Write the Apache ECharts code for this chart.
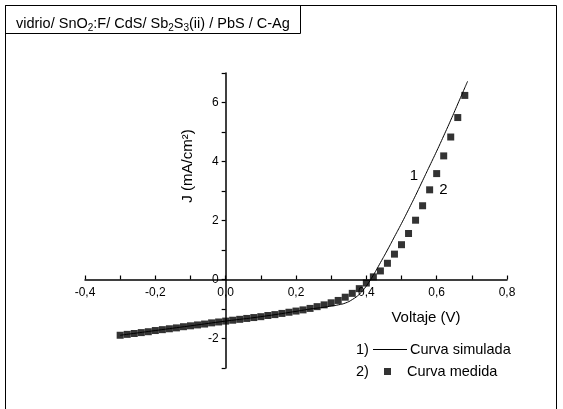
<!DOCTYPE html>
<html lang="es" style="height: 100%">
<head>
  <meta charset="utf-8">
</head>
<body style="height: 100%; margin: 0; background: #fff">
  <div id="container" style="width: 563px; height: 409px"></div>
  <script type="text/javascript" src="https://cdn.jsdelivr.net/npm/echarts@6/dist/echarts.min.js"></script>
  <script type="text/javascript">

    // curva medida (cuadrados), paso 0,02 V
    var voltMedido = [-0.30, -0.28, -0.26, -0.24, -0.22, -0.20, -0.18, -0.16, -0.14, -0.12,
      -0.10, -0.08, -0.06, -0.04, -0.02, 0.00, 0.02, 0.04, 0.06, 0.08,
      0.10, 0.12, 0.14, 0.16, 0.18, 0.20, 0.22, 0.24, 0.26, 0.28,
      0.30, 0.32, 0.34, 0.36, 0.38, 0.40, 0.42, 0.44, 0.46, 0.48,
      0.50, 0.52, 0.54, 0.56, 0.58, 0.60, 0.62, 0.64, 0.66, 0.68];
    var jMedido = [-1.89, -1.86, -1.83, -1.80, -1.77, -1.73, -1.70, -1.67, -1.64, -1.60,
      -1.57, -1.54, -1.51, -1.47, -1.44, -1.41, -1.38, -1.35, -1.32, -1.29,
      -1.26, -1.22, -1.19, -1.15, -1.11, -1.07, -1.03, -0.98, -0.92, -0.86,
      -0.79, -0.71, -0.60, -0.47, -0.31, -0.12, 0.09, 0.29, 0.55, 0.86,
      1.18, 1.56, 2.01, 2.50, 3.04, 3.59, 4.19, 4.83, 5.49, 6.24];

    // curva simulada (linea)
    var voltSimulado = [-0.30, -0.20, -0.10, 0.00, 0.10, 0.20, 0.24, 0.26, 0.28,
      0.30, 0.32, 0.34, 0.36, 0.38, 0.40, 0.42, 0.44, 0.46, 0.48,
      0.50, 0.52, 0.54, 0.56, 0.58, 0.60, 0.62, 0.64, 0.66, 0.68, 0.688];
    var jSimulado = [-1.89, -1.73, -1.57, -1.41, -1.26, -1.08, -1.00, -0.97, -0.94,
      -0.90, -0.86, -0.80, -0.68, -0.50, -0.22, 0.15, 0.57, 1.00, 1.45,
      1.90, 2.37, 2.85, 3.35, 3.85, 4.35, 4.87, 5.40, 5.95, 6.50, 6.72];

    var etiquetas = [
      { texto: '1', coord: [0.535, 3.52] },
      { texto: '2', coord: [0.619, 3.03] }
    ];

    var fuente = 'Liberation Sans, Arial, sans-serif';

    var xMin = -0.4, xMax = 0.8, yMin = -3, yMax = 7;
    var grid = { left: 85, right: 56, top: 73, bottom: 41 };
    var anchoGrid = 563 - grid.left - grid.right;
    var altoGrid = 409 - grid.top - grid.bottom;

    var dom = document.getElementById('container');
    var myChart = echarts.init(dom, null, { renderer: 'canvas' });

    var medido = voltMedido.map(function (v, i) { return [v, jMedido[i]]; });
    var simulado = voltSimulado.map(function (v, i) { return [v, jSimulado[i]]; });

    function coma(v) {
      return v.toFixed(1).replace('.', ',');
    }

    var option = {
      animation: false,
      title: {
        left: 11,
        top: 9,
        text: '{a|vidrio/ SnO}{s|2}{a|:F/ CdS/ Sb}{s|2}{a|S}{s|3}{a|(ii) / PbS / C-Ag}',
        textStyle: {
          fontWeight: 'normal',
          rich: {
            a: { fontFamily: fuente, fontSize: 14.5, fontWeight: 'normal', color: '#000', lineHeight: 19 },
            s: { fontFamily: fuente, fontSize: 10, fontWeight: 'normal', color: '#000', lineHeight: 10, verticalAlign: 'bottom' }
          }
        }
      },
      grid: { left: grid.left, right: grid.right, top: grid.top, bottom: grid.bottom },
      legend: [
        {
          data: [{ name: 'Curva simulada', icon: 'path://M0,0L34,0L34,1L0,1Z' }],
          left: 373, top: 342, padding: 0,
          itemWidth: 34, itemHeight: 1,
          textStyle: { fontFamily: fuente, fontSize: 14.5, color: '#000', padding: [0, 0, 0, -2] }
        },
        {
          data: [{ name: 'Curva medida', icon: 'rect' }],
          left: 384, top: 364, padding: 0,
          itemWidth: 7, itemHeight: 7,
          textStyle: { fontFamily: fuente, fontSize: 14.5, color: '#000', padding: [0, 0, 0, 11] }
        }
      ],
      xAxis: {
        type: 'value',
        min: xMin, max: xMax, interval: 0.1,
        offset: -altoGrid * (0 - yMin) / (yMax - yMin),
        splitLine: { show: false },
        axisLine: { onZero: false, lineStyle: { color: '#000', width: 1.5 } },
        axisTick: { inside: true, length: 4, lineStyle: { color: '#000', width: 1.2 } },
        axisLabel: {
          color: '#000', fontFamily: fuente, fontSize: 12, margin: 7,
          formatter: function (v) {
            return Math.round(v * 10) % 2 === 0 ? coma(v) : '';
          }
        }
      },
      yAxis: {
        type: 'value',
        min: yMin, max: yMax, interval: 1,
        offset: -anchoGrid * (0 - xMin) / (xMax - xMin),
        splitLine: { show: false },
        axisLine: { onZero: false, lineStyle: { color: '#000', width: 1.5 } },
        axisTick: { length: 4, lineStyle: { color: '#000', width: 1.2 } },
        axisLabel: {
          color: '#000', fontFamily: fuente, fontSize: 12, margin: 7,
          formatter: function (v) {
            return Math.round(v) % 2 === 0 ? String(Math.round(v)) : '';
          }
        }
      },
      graphic: [
        { type: 'rect', shape: { x: 5.5, y: 5.5, width: 551, height: 420 },
          style: { fill: null, stroke: '#000', lineWidth: 1 }, silent: true },
        { type: 'rect', shape: { x: 5.5, y: 5.5, width: 295, height: 28 },
          style: { fill: null, stroke: '#000', lineWidth: 1 }, silent: true },
        { type: 'text', x: 188, y: 166, rotation: Math.PI / 2,
          style: { text: 'J (mA/cm²)', font: '15px ' + fuente, fill: '#000',
            align: 'center', verticalAlign: 'middle' } },
        { type: 'text', x: 426, y: 318,
          style: { text: 'Voltaje (V)', font: '15px ' + fuente, fill: '#000',
            align: 'center', verticalAlign: 'middle' } },
        { type: 'text', x: 356, y: 350,
          style: { text: '1)', font: '14.5px ' + fuente, fill: '#000', verticalAlign: 'middle' } },
        { type: 'text', x: 356, y: 372,
          style: { text: '2)', font: '14.5px ' + fuente, fill: '#000', verticalAlign: 'middle' } }
      ],
      series: [
        {
          name: 'Curva simulada',
          type: 'line',
          data: simulado,
          smooth: true,
          symbol: 'none',
          z: 2,
          lineStyle: { color: '#000', width: 1 },
          itemStyle: { color: '#000' },
          markPoint: {
            symbol: 'circle', symbolSize: 0,
            label: { show: true, color: '#000', fontFamily: fuente, fontSize: 15,
              formatter: function (p) { return p.name; } },
            data: etiquetas.map(function (e) { return { name: e.texto, coord: e.coord }; })
          }
        },
        {
          name: 'Curva medida',
          type: 'scatter',
          data: medido,
          symbol: 'rect',
          symbolSize: 7,
          z: 3,
          itemStyle: { color: '#000' }
        }
      ]
    };

    myChart.setOption(option);

  </script>
</body>
</html>
